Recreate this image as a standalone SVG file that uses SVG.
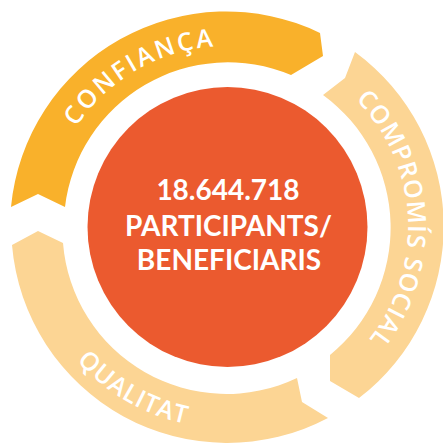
<svg xmlns="http://www.w3.org/2000/svg" width="443" height="446" viewBox="0 0 443 446">
<style>
.ring-text{font-family:"Open Sans","Liberation Sans",sans-serif;font-weight:600;font-size:25px;fill:#ffffff}
.center-text{font-family:Lato,"Open Sans","Liberation Sans",sans-serif;font-weight:700;font-size:28px;fill:#ffffff;text-anchor:middle}
.seg-orange{fill:#F9B12B}
.seg-light{fill:#FCD594}
</style>
<defs>
<path id="p-confianca" d="M 46 227 A 181 181 0 0 1 317.5 70.3"/>
<path id="p-compromis" d="M 308.9 65.5 A 181 181 0 0 1 325.6 378.8"/>
<path id="p-qualitat" d="M 26 227 A 201 201 0 0 0 327.5 401.1"/>
</defs>
<rect width="443" height="446" fill="#ffffff"/>
<g id="connectors"></g>
<g id="confianca">
<path class="seg-orange" d="M 11 207 A 216 216 0 0 1 320 33 L 323 56 L 291 75 A 164 164 0 0 0 65 207 L 38 194 Z"/>
<text class="ring-text" letter-spacing="2.5"><textPath href="#p-confianca" startOffset="50%" text-anchor="middle">CONFIANÇA</textPath></text>
</g>
<g id="compromis-social">
<path class="seg-light" d="M 355 52 A 216 216 0 0 1 359 398 L 330 381 L 330 355 A 164 164 0 0 0 323 95 L 345 78 Z"/>
<text class="ring-text" letter-spacing="1"><textPath href="#p-compromis" startOffset="50%" text-anchor="middle">COMPROMÍS SOCIAL</textPath></text>
</g>
<g id="qualitat">
<path class="seg-light" d="M 328 418 A 216 216 0 0 1 12 245 L 38 231 L 63 243 A 164 164 0 0 0 297 378 L 302 402 Z"/>
<text class="ring-text" letter-spacing="1"><textPath href="#p-qualitat" startOffset="50%" text-anchor="middle">QUALITAT</textPath></text>
</g>
<g id="center">
<circle cx="227.5" cy="227" r="140" fill="#EB5A2F"/>
<text class="center-text" x="228" y="200" font-size="30">18.644.718</text>
<text class="center-text" x="228.5" y="236">PARTICIPANTS/</text>
<text class="center-text" x="229" y="270">BENEFICIARIS</text>
</g>
</svg>
